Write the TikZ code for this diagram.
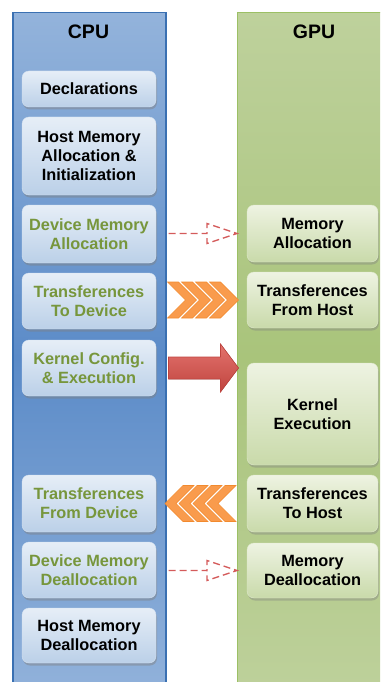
\documentclass[tikz,border=0pt]{standalone}
\usepackage{fontspec}
\setmainfont{Liberation Sans}
\usepackage{tikz}
\usetikzlibrary{shadows}
\definecolor{cpuedge}{HTML}{3A70B2}
\definecolor{cputop}{HTML}{93B3DB}
\definecolor{cpumid}{HTML}{5B8BC8}
\definecolor{gpuedge}{HTML}{9CC065}
\definecolor{gputop}{HTML}{BED19C}
\definecolor{gpumid}{HTML}{A9C47B}
\definecolor{hosttop}{HTML}{E6EEF7}
\definecolor{hostbot}{HTML}{BBD0E8}
\definecolor{devtop}{HTML}{EEF3E2}
\definecolor{devbot}{HTML}{C9DAAA}
\definecolor{devgreen}{HTML}{77963C}
\definecolor{chevorange}{HTML}{F99B4C}
\definecolor{chevedge}{HTML}{F28A2E}
\definecolor{arrowtop}{HTML}{E3736D}
\definecolor{arrowbot}{HTML}{C0443F}
\definecolor{dashred}{HTML}{D45B5B}

\begin{document}
\begin{tikzpicture}[x=1pt, y=-1pt,
  every node/.style={font=\bfseries\fontsize{16.3}{19.3}\selectfont, align=center, inner sep=0pt},
  title/.style={font=\bfseries\fontsize{19.5}{23}\selectfont},
  cpucol/.style={draw=cpuedge, line width=1.5pt, anchor=north west, top color=cputop, bottom color=cputop, middle color=cpumid},
  gpucol/.style={draw=gpuedge, line width=1.3pt, anchor=north west, top color=gputop, bottom color=gputop, middle color=gpumid},
  hostbox/.style={rounded corners=7pt, minimum width=134pt, top color=hosttop, bottom color=hostbot, draw=hosttop!60!hostbot, drop shadow={opacity=0.45, shadow xshift=1pt, shadow yshift=-2.5pt}},
  devbox/.style={rounded corners=7pt, minimum width=131pt, top color=devtop, bottom color=devbot, draw=devtop!60!devbot, drop shadow={opacity=0.4, shadow xshift=1pt, shadow yshift=-2.5pt}},
  devtext/.style={text=devgreen},
  dashcon/.style={draw=dashred, line width=1.4pt, dash pattern=on 7pt off 4pt},
  chevron/.style={fill=chevorange, draw=chevedge, line width=0.6pt, line join=miter},
  bigarrow/.style={top color=arrowtop, bottom color=arrowbot, draw=arrowbot, line width=0.6pt}]

  \useasboundingbox (0,0) rectangle (380,682);
  \clip (0,0) rectangle (380,682);

  \node[cpucol, minimum width=153pt, minimum height=690pt] (cpu) at (12,12) {};
  \node[gpucol, minimum width=170pt, minimum height=690pt] (gpu) at (237,12) {};
  \node[title] (cputitle) at (88.5,32) {CPU};
  \node[title] (gputitle) at (314,32) {GPU};

  \node[hostbox, minimum height=36pt] (decl) at (89,89) {Declarations};
  \node[hostbox, minimum height=78pt] (hmai) at (89,156) {Host Memory\\Allocation \&\\Initialization};
  \node[hostbox, devtext, minimum height=58pt] (dma) at (89,234) {Device Memory\\Allocation};
  \node[hostbox, devtext, minimum height=56pt] (ttd) at (89,301) {Transferences\\To Device};
  \node[hostbox, devtext, minimum height=56pt] (kce) at (89,368) {Kernel Config.\\\& Execution};
  \node[hostbox, devtext, minimum height=57pt] (tfd) at (89,503.5) {Transferences\\From Device};
  \node[hostbox, devtext, minimum height=56pt] (dmd) at (89,570) {Device Memory\\Deallocation};
  \node[hostbox, minimum height=55pt] (hmd) at (89,635.5) {Host Memory\\Deallocation};

  \node[devbox, minimum height=57pt] (gma) at (312.5,233.5) {Memory\\Allocation};
  \node[devbox, minimum height=56pt] (tfh) at (312.5,300) {Transferences\\From Host};
  \node[devbox, minimum height=102pt] (gke) at (312.5,414) {Kernel\\Execution};
  \node[devbox, minimum height=57pt] (tth) at (312.5,503.5) {Transferences\\To Host};
  \node[devbox, minimum height=55pt] (gmd) at (312.5,570.5) {Memory\\Deallocation};

  \draw[dashcon] ([xshift=2pt]cpu.east |- gma) -- ([xshift=-30pt]gpu.west |- gma) -- ++(0,-10) -- (gpu.west |- gma) -- ++(-30,10) -- ++(0,-10);
  \draw[dashcon] ([xshift=2pt]cpu.east |- gmd) -- ([xshift=-30pt]gpu.west |- gmd) -- ++(0,-10) -- (gpu.west |- gmd) -- ++(-30,10) -- ++(0,-10);

  \foreach \i in {0,...,3}
    \filldraw[chevron, shift={(cpu.east |- tfh)}, xshift=1pt+\i*14pt] (0,-18) -- (11,-18) -- (29,0) -- (11,18) -- (0,18) -- (18,0) -- cycle;
  \foreach \i in {0,...,3}
    \filldraw[chevron, shift={(gpu.west |- tth)}, xshift=-1pt-\i*14pt] (0,-18) -- (-11,-18) -- (-29,0) -- (-11,18) -- (0,18) -- (-18,0) -- cycle;

  \filldraw[bigarrow, shift={(cpu.east |- kce)}] (2,-11) -- (54,-11) -- (54,-24) -- (72,0) -- (54,24) -- (54,11) -- (2,11) -- cycle;

\end{tikzpicture}
\end{document}
